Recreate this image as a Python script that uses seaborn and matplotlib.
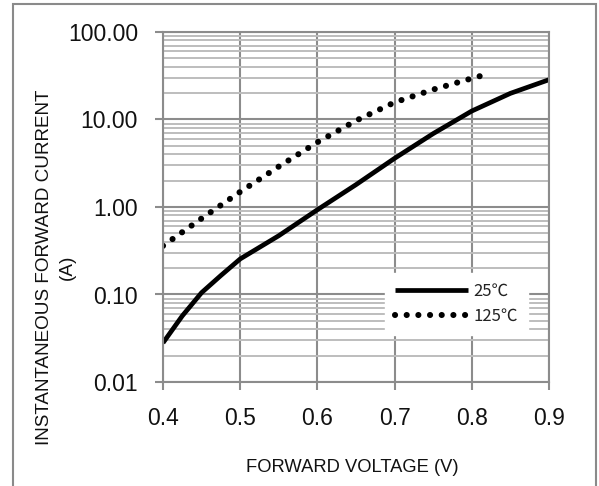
import matplotlib
matplotlib.use("Agg")
from matplotlib import pyplot as plt
from matplotlib.patches import Rectangle
from matplotlib.ticker import LogLocator, FuncFormatter, NullFormatter
import seaborn as sns
import pandas as pd

# forward characteristic
v_25 = [0.40, 0.425, 0.45, 0.475, 0.50, 0.55, 0.60, 0.65, 0.70, 0.75, 0.80, 0.85, 0.90]
i_25 = [0.028, 0.057, 0.105, 0.165, 0.255, 0.47, 0.93, 1.8, 3.6, 6.9, 12.5, 19.9, 28.5]

v_125 = [0.40, 0.45, 0.50, 0.55, 0.60, 0.65, 0.70, 0.75, 0.80, 0.82]
i_125 = [0.36, 0.74, 1.49, 2.9, 5.5, 9.7, 15.7, 22.0, 29.5, 33.0]

x_ticks = [0.4, 0.5, 0.6, 0.7, 0.8, 0.9]
y_ticks = [0.01, 0.1, 1, 10, 100]

df25 = pd.DataFrame({"v": v_25, "i": i_25})
df125 = pd.DataFrame({"v": v_125, "i": i_125})

sns.set_theme(style="white")
plt.rcParams['font.family'] = ['Liberation Sans', 'DejaVu Sans']

fig = plt.figure(figsize=(5.99, 4.86), dpi=100)
ax = fig.add_axes([163 / 599, 1 - 382 / 486, 386 / 599, 350 / 486])

# outer frame of the figure
fig.patches.append(Rectangle((13 / 599, -0.1), 583 / 599, 1.1 - 4 / 486,
                             transform=fig.transFigure, fill=False,
                             edgecolor="#8a8a8a", linewidth=1.5))

sns.lineplot(data=df25, x="v", y="i", ax=ax, color="black", linewidth=3.4,
             label="25℃", solid_capstyle="butt")
sns.lineplot(data=df125, x="v", y="i", ax=ax, color="black", linewidth=4.4,
             linestyle=(0, (0.01, 1.9)), dash_capstyle="round", label="125℃")

ax.set_yscale("log")
ax.set_xlim(0.4, 0.9)
ax.set_ylim(0.01, 100)
ax.set_xticks(x_ticks)
ax.set_yticks(y_ticks)
ax.yaxis.set_minor_locator(LogLocator(base=10, subs=range(2, 10)))
ax.yaxis.set_minor_formatter(NullFormatter())
ax.yaxis.set_major_formatter(FuncFormatter(lambda v, p: f"{v:.2f}"))
ax.xaxis.set_major_formatter(FuncFormatter(lambda v, p: f"{v:.1f}"))

ax.grid(True, which="major", color="#8c8c8c", linewidth=1.5)
ax.grid(True, which="minor", axis="y", color="#bdbdbd", linewidth=1.4)
ax.set_axisbelow(True)
for s in ax.spines.values():
    s.set_color("#8c8c8c")
    s.set_linewidth(1.5)

ax.tick_params(axis="both", which="major", direction="out", length=6,
               width=1.5, color="#8c8c8c", labelsize=16.5, labelcolor="#111111")
ax.tick_params(axis="y", which="major", pad=12)
ax.tick_params(axis="x", which="major", pad=12)
ax.tick_params(axis="y", which="minor", length=0)
ax.tick_params(left=True, bottom=True)

ax.set_xlabel("FORWARD VOLTAGE (V)", fontsize=13.2, color="#111111")
ax.set_ylabel("INSTANTANEOUS FORWARD CURRENT\n(A)", fontsize=13.6,
              color="#111111", linespacing=1.4)
ax.xaxis.set_label_coords(0.49, -0.243)
ax.xaxis.label.set_va("center")
ax.yaxis.set_label_coords(-0.277, 0.329)
ax.yaxis.label.set_va("center")

leg = ax.legend(loc="center", bbox_to_anchor=((456.5 - 163) / 386, (382 - 304) / 350),
                frameon=True, fancybox=False, framealpha=1, edgecolor="white",
                prop={"family": ["Noto Sans CJK SC", "DejaVu Sans"], "size": 12},
                handlelength=4.4, handletextpad=0.3, labelspacing=0.45,
                borderpad=0.6)
for t in leg.get_texts():
    t.set_color("#222222")

fig.savefig("out.png", dpi=100)
